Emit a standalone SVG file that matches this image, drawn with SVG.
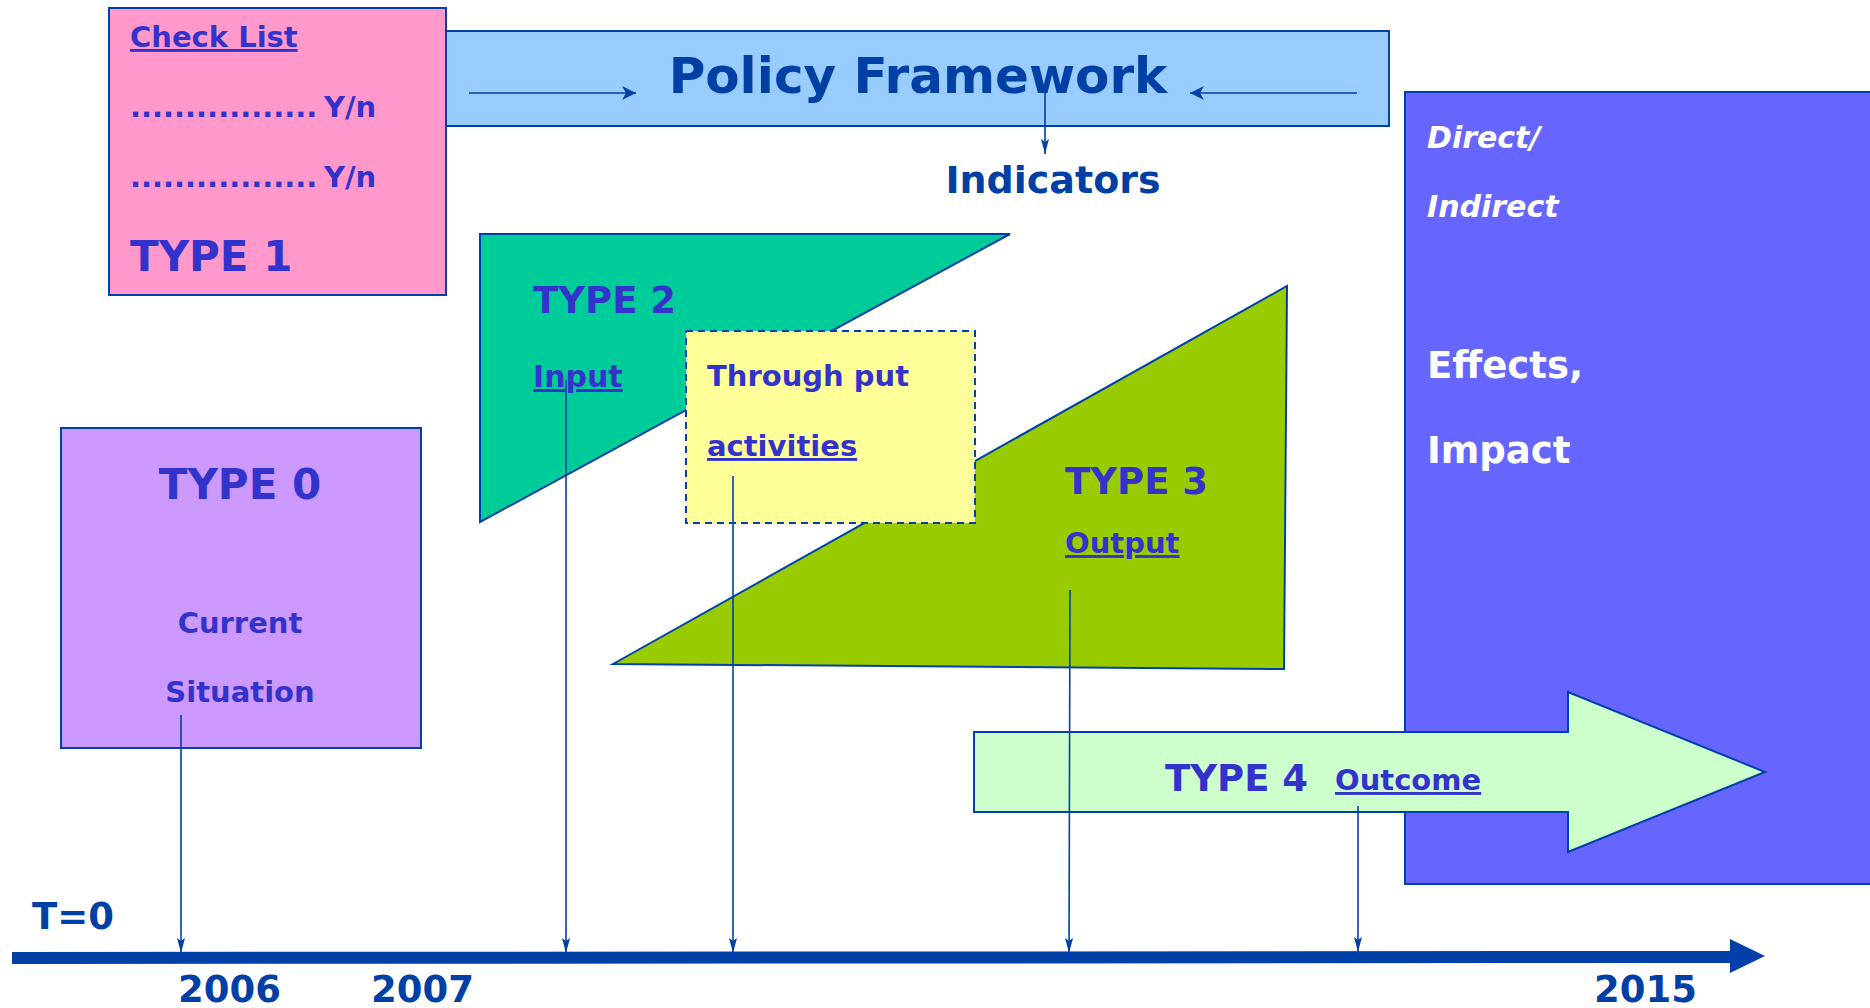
<svg xmlns="http://www.w3.org/2000/svg" width="1870" height="1008" viewBox="0 0 1870 1008">
<style>
.t{font-family:"DejaVu Sans",Verdana,sans-serif;font-weight:bold;}
.pb{fill:#3333CC;}
.db{fill:#003FA3;}
.wh{fill:#FFFFFF;}
.sh{stroke:#0040A8;stroke-width:2;}
.con{stroke:#0040A8;stroke-width:1.6;fill:none;}
</style>
<defs>
<marker id="ah" markerWidth="15" markerHeight="8" refX="15" refY="4" orient="auto" markerUnits="userSpaceOnUse" viewBox="0 0 15 8">
<path d="M0,0 L15,4 L0,8 L3,4 Z" fill="#0040A8"/>
</marker>
<marker id="ah2" markerWidth="14" markerHeight="14" refX="14" refY="7" orient="auto" markerUnits="userSpaceOnUse" viewBox="0 0 14 14">
<path d="M0,0 L14,7 L0,14 L4,7 Z" fill="#0040A8"/>
</marker>
</defs>

<g id="effects">
<rect x="1405" y="92" width="470" height="792" fill="#6666FF" class="sh"/>
<text class="t wh" x="1427" y="148" font-size="30" font-style="italic">Direct/</text>
<text class="t wh" x="1427" y="217" font-size="30" font-style="italic">Indirect</text>
<text class="t wh" x="1427" y="378" font-size="37">Effects,</text>
<text class="t wh" x="1427" y="463" font-size="37">Impact</text>
</g>

<g id="type1">
<rect x="109" y="8" width="337" height="287" fill="#FF99CC" class="sh"/>
<text class="t pb" x="130" y="47" font-size="29" text-decoration="underline">Check List</text>
<text class="t pb" x="130" y="117" font-size="29">.................<tspan x="324">Y/n</tspan></text>
<text class="t pb" x="130" y="187" font-size="29">.................<tspan x="324">Y/n</tspan></text>
<text class="t pb" x="130" y="271" font-size="42">TYPE 1</text>
</g>

<g id="policy">
<rect x="446" y="31" width="943" height="95" fill="#99CCFF" class="sh"/>
<text class="t db" x="918" y="93" font-size="50" text-anchor="middle">Policy Framework</text>
</g>

<g id="indicators">
<text class="t db" x="1053" y="193" font-size="38" text-anchor="middle">Indicators</text>
</g>

<g id="type2">
<polygon points="480,234 1010,234 480,522" fill="#00CC99" class="sh"/>
<text class="t pb" x="533" y="313" font-size="37">TYPE 2</text>
<text class="t pb" x="533" y="387" font-size="30" text-decoration="underline">Input</text>
</g>

<g id="type3">
<polygon points="613,664 1287,286 1284,669" fill="#99CC00" class="sh"/>
<text class="t pb" x="1065" y="494" font-size="37">TYPE 3</text>
<text class="t pb" x="1065" y="553" font-size="29" text-decoration="underline">Output</text>
</g>

<g id="throughput">
<rect x="686" y="331" width="289" height="192" fill="#FFFF99" stroke="#0040A8" stroke-width="2" stroke-dasharray="7,5"/>
<text class="t pb" x="707" y="386" font-size="29">Through put</text>
<text class="t pb" x="707" y="456" font-size="29" text-decoration="underline">activities</text>
</g>

<g id="type0">
<rect x="61" y="428" width="360" height="320" fill="#CC99FF" class="sh"/>
<text class="t pb" x="240" y="499" font-size="42" text-anchor="middle">TYPE 0</text>
<text class="t pb" x="240" y="633" font-size="29" text-anchor="middle">Current</text>
<text class="t pb" x="240" y="702" font-size="29" text-anchor="middle">Situation</text>
</g>

<g id="type4">
<polygon points="974,732 1568,732 1568,692 1765,772 1568,852 1568,812 974,812" fill="#CCFFCC" class="sh"/>
<text class="t pb" x="1165" y="791" font-size="37">TYPE 4</text>
<text class="t pb" x="1335" y="790" font-size="29" text-decoration="underline">Outcome</text>
</g>

<g id="timeline">
<polygon points="12,952 1730,951 1730,939 1765,956 1730,973 1730,963 12,964" fill="#0040A8"/>
<text class="t db" x="32" y="929" font-size="37">T=0</text>
<text class="t db" x="178" y="1002" font-size="37">2006</text>
<text class="t db" x="371" y="1002" font-size="37">2007</text>
<text class="t db" x="1594" y="1002" font-size="37">2015</text>
</g>

<g id="connectors">
<line class="con" x1="469" y1="93" x2="636" y2="93" marker-end="url(#ah2)"/>
<line class="con" x1="1357" y1="93" x2="1190" y2="93" marker-end="url(#ah2)"/>
<line class="con" x1="1045" y1="92" x2="1045" y2="154" marker-end="url(#ah)"/>
<line class="con" x1="181" y1="715" x2="181" y2="953" marker-end="url(#ah)"/>
<line class="con" x1="566" y1="380" x2="566" y2="953" marker-end="url(#ah)"/>
<line class="con" x1="733" y1="476" x2="733" y2="953" marker-end="url(#ah)"/>
<line class="con" x1="1070" y1="590" x2="1069" y2="953" marker-end="url(#ah)"/>
<line class="con" x1="1358" y1="806" x2="1358" y2="952" marker-end="url(#ah)"/>
</g>
</svg>
